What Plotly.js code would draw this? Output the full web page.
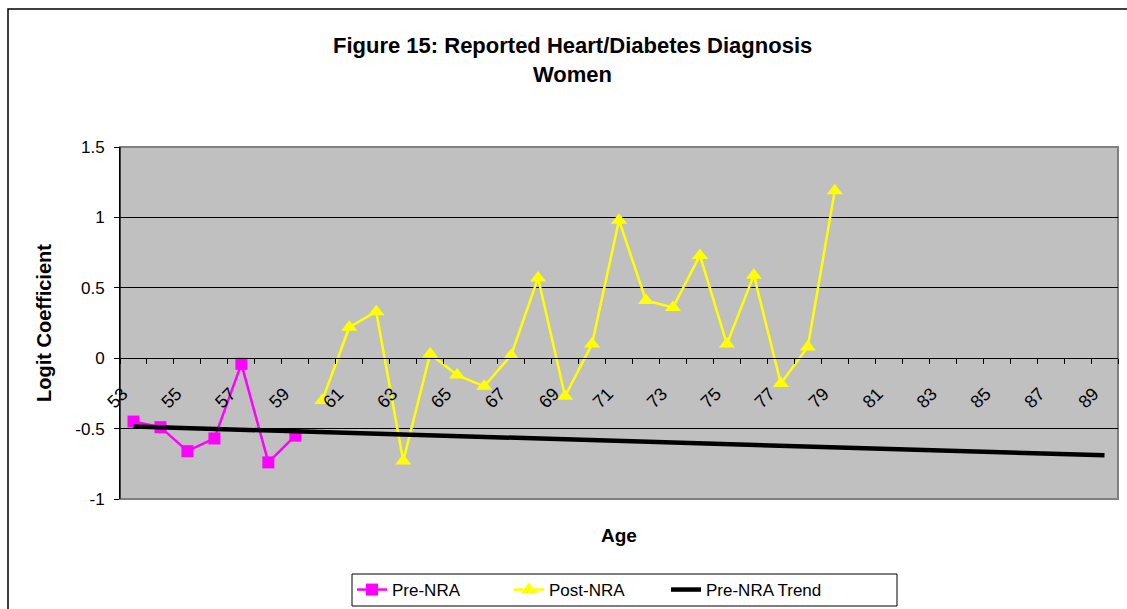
<!DOCTYPE html>
<html>
<head>
<meta charset="utf-8">
<script src="https://cdn.plot.ly/plotly-3.0.1.min.js"></script>
<style>html,body{margin:0;padding:0;background:#fff;}#chart{width:1127px;height:609px;}</style>
</head>
<body>
<div id="chart"></div>
<script>
// ---- DATA ----
const preAges = [53, 54, 55, 56, 57, 58, 59];
const preValues = [-0.45, -0.49, -0.66, -0.57, -0.04, -0.74, -0.55];
const postAges = [60, 61, 62, 63, 64, 65, 66, 67, 68, 69, 70, 71, 72, 73, 74, 75, 76, 77, 78, 79];
const postValues = [-0.30, 0.22, 0.33, -0.73, 0.03, -0.12, -0.20, 0.02, 0.57, -0.27, 0.10, 0.98, 0.41, 0.36, 0.73, 0.10, 0.59, -0.18, 0.08, 1.19];
const trendAges = [53, 89];
const trendValues = [-0.485, -0.69];
const tickAges = [53, 55, 57, 59, 61, 63, 65, 67, 69, 71, 73, 75, 77, 79, 81, 83, 85, 87, 89];
const tickLabels = ["53", "55", "57", "59", "61", "63", "65", "67", "69", "71", "73", "75", "77", "79", "81", "83", "85", "87", "89"];
const yTicks = [-1, -0.5, 0, 0.5, 1, 1.5];
const yTickLabels = ["-1", "-0.5", "0", "0.5", "1", "1.5"];

const FONT = 'Arial, "Liberation Sans", sans-serif';

const traces = [
  {x: preAges, y: preValues, name: 'Pre-NRA', type: 'scatter', mode: 'lines+markers',
   line: {color: '#FF00FF', width: 2.5}, marker: {symbol: 'square', size: 12, color: '#FF00FF'}},
  {x: postAges, y: postValues, name: 'Post-NRA', type: 'scatter', mode: 'lines+markers',
   line: {color: '#FFFF00', width: 2.5}, marker: {symbol: 'triangle-up', size: 14, color: '#FFFF00'}},
  {x: trendAges, y: trendValues, name: 'Pre-NRA Trend', type: 'scatter', mode: 'lines',
   line: {color: '#000000', width: 4.5}}
];

const L = 120, R = 9, T = 147, B = 110;
const W = 1127, H = 609;
const pw = W - L - R, ph = H - T - B;
function px(x) { return (x - L) / pw; }
function py(y) { return (H - B - y) / ph; }

const layout = {
  width: W, height: H,
  margin: {l: L, r: R, t: T, b: B, pad: 0, autoexpand: false},
  paper_bgcolor: '#FFFFFF',
  plot_bgcolor: '#C0C0C0',
  showlegend: true,
  font: {family: FONT, color: '#000', size: 17},
  xaxis: {
    type: 'linear', range: [52.5, 89.5],
    anchor: 'free', position: 0.4,
    tickmode: 'array', tickvals: tickAges, ticktext: tickLabels,
    tickangle: -45, ticks: '', ticklen: 0,
    ticklabelstandoff: 17, ticklabelshift: -11,
    tickfont: {family: FONT, size: 18, color: '#000'},
    showline: true, linecolor: '#000', linewidth: 1,
    showgrid: false, zeroline: false, automargin: false,
    minor: {tick0: 52.5, dtick: 1, ticks: 'outside', ticklen: 5, tickcolor: '#000', tickwidth: 1, showgrid: false}
  },
  yaxis: {
    range: [-1, 1.5], tickmode: 'array', tickvals: yTicks, ticktext: yTickLabels,
    ticks: 'outside', ticklen: 5, tickcolor: '#000',
    tickfont: {family: FONT, size: 17, color: '#000'},
    showline: true, linecolor: '#000', linewidth: 1,
    showgrid: true, gridcolor: '#000', gridwidth: 1,
    zeroline: false, automargin: false,
    ticklabelstandoff: 6,
    title: {text: 'Logit Coefficient', font: {family: FONT, size: 20, weight: 'bold', color: '#000'}, standoff: 18}
  },
  legend: {
    orientation: 'h', x: px(352), y: py(572), xanchor: 'left', yanchor: 'top',
    borderwidth: 0, bgcolor: 'rgba(0,0,0,0)',
    font: {family: FONT, size: 17, color: '#000'},
    tracegroupgap: 0, entrywidth: 112
  },
  annotations: [
    {text: '<b>Figure 15: Reported Heart/Diabetes Diagnosis</b>', xref: 'paper', yref: 'paper',
     x: px(572), y: py(45), xanchor: 'center', yanchor: 'middle', showarrow: false,
     font: {family: FONT, size: 22, color: '#000'}},
    {text: '<b>Women</b>', xref: 'paper', yref: 'paper',
     x: px(572), y: py(75), xanchor: 'center', yanchor: 'middle', showarrow: false,
     font: {family: FONT, size: 22, color: '#000'}},
    {text: '<b>Age</b>', xref: 'paper', yref: 'paper',
     x: px(619), y: py(535), xanchor: 'center', yanchor: 'middle', showarrow: false,
     font: {family: FONT, size: 19, color: '#000'}}
  ],
  shapes: [
    {type: 'rect', xref: 'paper', yref: 'paper', x0: 0, x1: 1, y0: 0, y1: 1,
     line: {color: '#808080', width: 2}, layer: 'below'},
    {type: 'line', xref: 'paper', yref: 'paper', x0: 0, x1: 0, y0: 0, y1: 1,
     line: {color: '#000', width: 1}},
    {type: 'rect', xref: 'paper', yref: 'paper', x0: px(8), x1: px(1140), y0: py(650), y1: py(9),
     line: {color: '#000', width: 1.5}},
    {type: 'rect', xref: 'paper', yref: 'paper', x0: px(352), x1: px(897), y0: py(606), y1: py(574),
     line: {color: '#000', width: 1}, fillcolor: '#FFFFFF', layer: 'above'}
  ]
};

Plotly.newPlot('chart', traces, layout, {displayModeBar: false, staticPlot: true});
</script>
</body>
</html>
